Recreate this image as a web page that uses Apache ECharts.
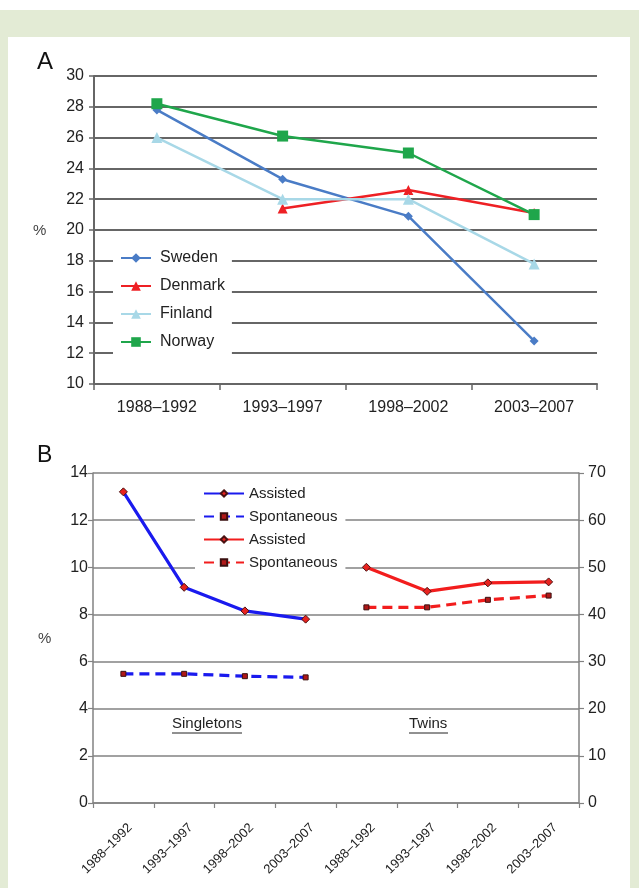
<!DOCTYPE html>
<html>
<head>
<meta charset="utf-8">
<script src="https://cdn.jsdelivr.net/npm/echarts@6/dist/echarts.min.js"></script>
<style>
html,body{margin:0;padding:0;width:639px;height:888px;background:#fff;overflow:hidden;}
#frame{position:absolute;left:0;top:10px;width:639px;height:878px;background:#e3ebd5;}
#panel{position:absolute;left:8px;top:37px;width:622px;height:851px;background:#fff;}
#chart{position:absolute;left:0;top:0;width:639px;height:888px;}
</style>
</head>
<body>
<div id="frame"></div>
<div id="panel"></div>
<div id="chart"></div>
<script>
// ---- Data ----
var periods = ['1988–1992', '1993–1997', '1998–2002', '2003–2007'];
var sweden  = [27.8, 23.3, 20.9, 12.8];
var denmark = [null, 21.4, 22.6, 21.1];
var finland = [26.0, 22.0, 22.0, 17.8];
var norway  = [28.2, 26.1, 25.0, 21.0];
var yTicksA = [10, 30, 2];

var singAssisted = [13.2, 9.15, 8.15, 7.8];
var singSpont    = [5.48, 5.48, 5.38, 5.33];
var twinAssisted = [50.0, 44.9, 46.7, 46.9];
var twinSpont    = [41.5, 41.5, 43.1, 44.0];
var groupsB = ['Singletons', 'Twins'];

// ---- Build ----
var catsB = [];
groupsB.forEach(function (g) { periods.forEach(function (p) { catsB.push(g + '|' + p); }); });
function pairs(group, vals) { return vals.map(function (v, i) { return [group + '|' + periods[i], v]; }); }

var FONT = '"Liberation Sans", Arial, sans-serif';
var gridGrayA = '#666666';
var gridGrayB = '#828282';

var chart = echarts.init(document.getElementById('chart'), null, {renderer: 'canvas'});
var option = {
  backgroundColor: 'transparent',
  animation: false,
  textStyle: {fontFamily: FONT},
  grid: [
    {left: 94, right: 42, top: 76, height: 308},
    {left: 93, right: 60, top: 473, height: 330}
  ],
  xAxis: [
    {
      type: 'category', gridIndex: 0, data: periods, boundaryGap: true,
      axisLine: {lineStyle: {color: gridGrayA, width: 2}},
      axisTick: {show: true, length: 6, lineStyle: {color: gridGrayA, width: 1.5}},
      axisLabel: {color: '#222', fontSize: 16, margin: 16, fontFamily: FONT}
    },
    {
      type: 'category', gridIndex: 1, data: catsB, boundaryGap: true,
      axisLine: {lineStyle: {color: gridGrayB, width: 1.5}},
      axisTick: {show: true, length: 5, lineStyle: {color: gridGrayB, width: 1.2}},
      axisLabel: {
        color: '#222', fontSize: 13, rotate: 45, margin: 16, interval: 0, fontFamily: FONT,
        verticalAlign: 'top', padding: [3, 0, 0, 0],
        formatter: function (v) { return v.split('|')[1]; }
      }
    }
  ],
  yAxis: [
    {
      type: 'value', gridIndex: 0, min: yTicksA[0], max: yTicksA[1], interval: yTicksA[2],
      axisLine: {show: true, lineStyle: {color: gridGrayA, width: 2}},
      axisTick: {show: true, length: 5, lineStyle: {color: gridGrayA, width: 1.5}},
      splitLine: {show: true, lineStyle: {color: gridGrayA, width: 2}},
      axisLabel: {color: '#222', fontSize: 16, margin: 10, fontFamily: FONT}
    },
    {
      type: 'value', gridIndex: 1, min: 0, max: 14, interval: 2,
      axisLine: {show: true, lineStyle: {color: gridGrayB, width: 1.5}},
      axisTick: {show: true, length: 5, lineStyle: {color: gridGrayB, width: 1.2}},
      splitLine: {show: true, lineStyle: {color: gridGrayB, width: 1.5}},
      axisLabel: {color: '#222', fontSize: 16, margin: 5, fontFamily: FONT}
    },
    {
      type: 'value', gridIndex: 1, position: 'right', min: 0, max: 70, interval: 10,
      axisLine: {show: true, lineStyle: {color: gridGrayB, width: 1.5}},
      axisTick: {show: true, length: 5, lineStyle: {color: gridGrayB, width: 1.2}},
      splitLine: {show: false},
      axisLabel: {color: '#222', fontSize: 16, margin: 9, fontFamily: FONT}
    }
  ],
  legend: [
    {
      show: true, orient: 'vertical', left: 113, top: 244,
      backgroundColor: '#fff', padding: [6, 7, 6, 7],
      itemWidth: 30, itemHeight: 12, itemGap: 12,
      textStyle: {color: '#222', fontSize: 16, lineHeight: 16, fontFamily: FONT, padding: [0, 0, 0, 4]},
      data: ['Sweden', 'Denmark', 'Finland', 'Norway']
    },
    {
      show: true, orient: 'vertical', left: 195, top: 481,
      backgroundColor: '#fff', padding: [5, 8, 5, 8],
      itemWidth: 40, itemHeight: 8, itemGap: 8,
      textStyle: {color: '#222', fontSize: 15, lineHeight: 15, fontFamily: FONT},
      formatter: function (n) { return n.split(' (')[0]; },
      data: ['Assisted (singletons)', 'Spontaneous (singletons)', 'Assisted (twins)', 'Spontaneous (twins)']
    }
  ],
  graphic: [
    {type: 'text', left: 37, top: 50, style: {text: 'A', font: '24px ' + FONT, fill: '#111'}},
    {type: 'text', left: 37, top: 444, style: {text: 'B', font: '23px ' + FONT, fill: '#111'}},
    {type: 'text', left: 33, top: 223, style: {text: '%', font: '15px ' + FONT, fill: '#444'}},
    {type: 'text', left: 38, top: 631, style: {text: '%', font: '15px ' + FONT, fill: '#444'}},
    {type: 'text', left: 172, top: 716, style: {text: 'Singletons', font: '15px ' + FONT, fill: '#222'}},
    {type: 'line', shape: {x1: 172, y1: 733, x2: 242, y2: 733}, style: {stroke: '#222', lineWidth: 1}},
    {type: 'text', left: 409, top: 716, style: {text: 'Twins', font: '15px ' + FONT, fill: '#222'}},
    {type: 'line', shape: {x1: 409, y1: 733, x2: 448, y2: 733}, style: {stroke: '#222', lineWidth: 1}}
  ],
  series: [
    {name: 'Sweden', type: 'line', xAxisIndex: 0, yAxisIndex: 0, data: sweden,
     color: '#4a7cc6', lineStyle: {width: 2.5}, symbol: 'diamond', symbolSize: 9, itemStyle: {color: '#4a7cc6'}},
    {name: 'Denmark', type: 'line', xAxisIndex: 0, yAxisIndex: 0, data: denmark,
     color: '#ee2024', lineStyle: {width: 2.5}, symbol: 'triangle', symbolSize: 10, itemStyle: {color: '#ee2024'}},
    {name: 'Finland', type: 'line', xAxisIndex: 0, yAxisIndex: 0, data: finland,
     color: '#a8d8e7', lineStyle: {width: 2.5}, symbol: 'triangle', symbolSize: 11, itemStyle: {color: '#a8d8e7'}},
    {name: 'Norway', type: 'line', xAxisIndex: 0, yAxisIndex: 0, data: norway,
     color: '#1fa64b', lineStyle: {width: 2.5}, symbol: 'rect', symbolSize: 11, itemStyle: {color: '#1fa64b'}},

    {name: 'Assisted (singletons)', type: 'line', xAxisIndex: 1, yAxisIndex: 1, data: pairs('Singletons', singAssisted),
     color: '#1a1aee', lineStyle: {width: 3.2, color: '#1a1aee'}, symbol: 'diamond', symbolSize: 8,
     itemStyle: {color: '#e8231f', borderColor: '#4a1212', borderWidth: 1}},
    {name: 'Spontaneous (singletons)', type: 'line', xAxisIndex: 1, yAxisIndex: 1, data: pairs('Singletons', singSpont),
     color: '#1a1aee', lineStyle: {width: 3.2, color: '#1a1aee', type: [10, 6]}, symbol: 'rect', symbolSize: 5,
     itemStyle: {color: '#b01818', borderColor: '#3a1010', borderWidth: 1}},
    {name: 'Assisted (twins)', type: 'line', xAxisIndex: 1, yAxisIndex: 2, data: pairs('Twins', twinAssisted),
     color: '#f21d1d', lineStyle: {width: 3.2, color: '#f21d1d'}, symbol: 'diamond', symbolSize: 8,
     itemStyle: {color: '#e8231f', borderColor: '#4a1212', borderWidth: 1}},
    {name: 'Spontaneous (twins)', type: 'line', xAxisIndex: 1, yAxisIndex: 2, data: pairs('Twins', twinSpont),
     color: '#f21d1d', lineStyle: {width: 3.2, color: '#f21d1d', type: [10, 6]}, symbol: 'rect', symbolSize: 5,
     itemStyle: {color: '#b01818', borderColor: '#3a1010', borderWidth: 1}}
  ]
};
chart.setOption(option);
</script>
</body>
</html>
